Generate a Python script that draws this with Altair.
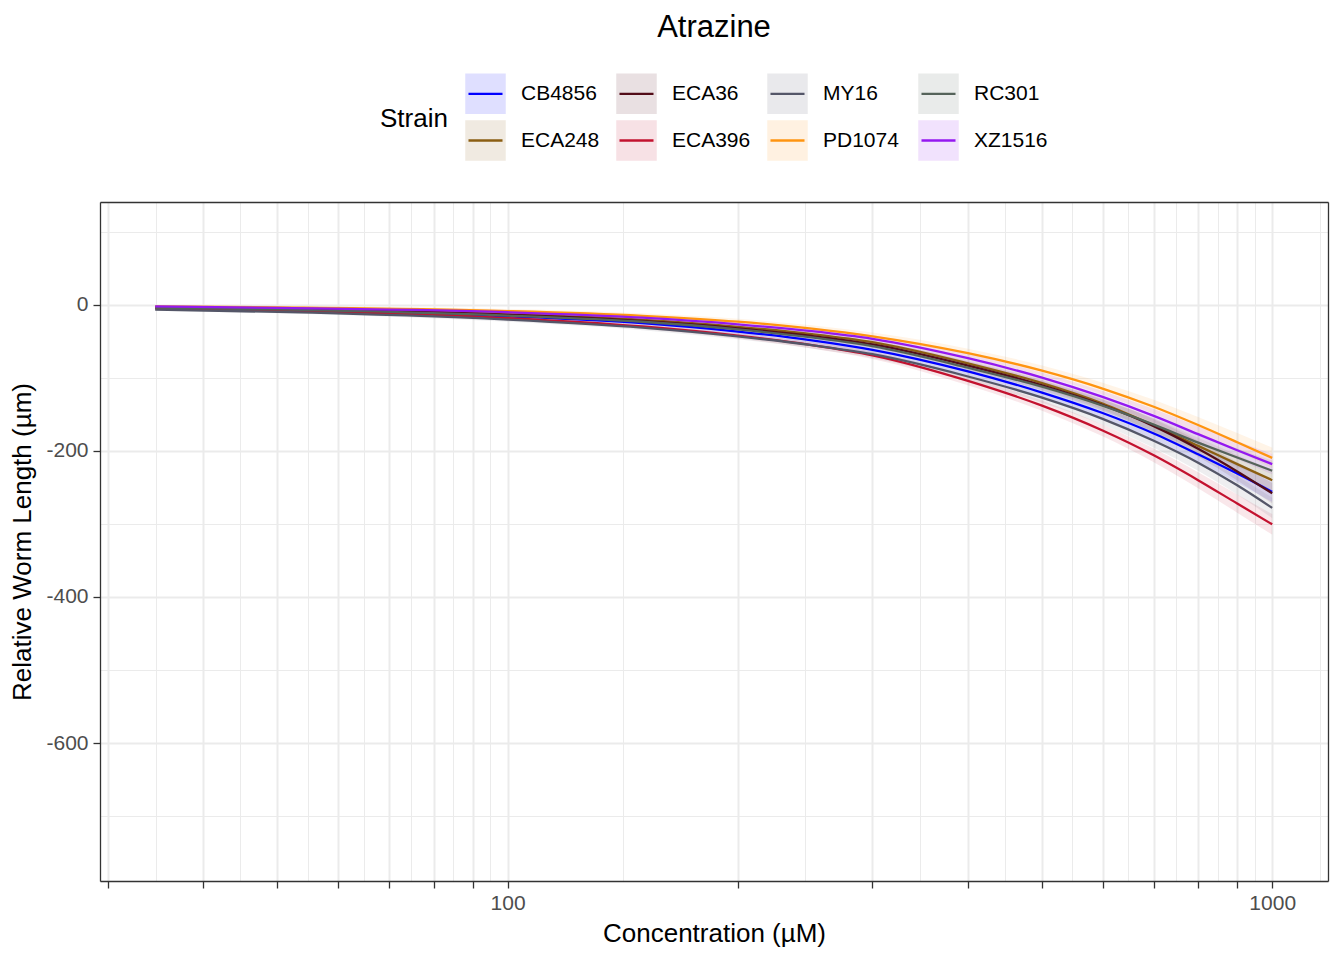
import altair as alt
import pandas as pd

# ---------------- data ----------------
strains = ["CB4856", "ECA248", "ECA36", "ECA396", "MY16", "PD1074", "RC301", "XZ1516"]
colors = ["#0000FF", "#8B5E12", "#520C18", "#C3122F", "#545668", "#FF9410", "#55635A", "#9418F0"]

conc = [34.6, 50, 100, 150, 200, 250, 300, 400, 500, 600, 700, 800, 900, 1000]

cb4856 = [-4, -6.5, -15.5, -25, -36.5, -48.5, -61.5, -91, -120, -148, -176, -204.5, -231, -256]
eca248 = [-3, -5, -12.5, -20.5, -30, -40, -51, -80, -107, -135, -165, -193, -218, -240]
eca36 = [-3, -5.5, -13.5, -22, -32, -42.5, -54, -83, -110, -137, -166, -197, -228, -258]
eca396 = [-4.5, -7.5, -18, -29.5, -42, -55, -69, -104, -138, -172, -206, -240, -272, -300.5]
my16 = [-6.5, -9.5, -20, -31, -43, -55, -67.5, -98, -127, -156, -186, -216, -247, -278]
pd1074 = [-2, -3.4, -8.4, -14.9, -22.9, -32.4, -42.9, -66, -90, -114.5, -139.5, -164.5, -188, -209.5]
rc301 = [-3.5, -6, -14.5, -23, -33.5, -44.5, -56.5, -86, -112, -138, -164, -188.5, -209, -227]
xz1516 = [-2, -4, -10, -17.5, -26.5, -36, -46.5, -73, -99.5, -126, -152, -177, -199, -218]

# approximate half-width of the confidence ribbons
ci_half = [1.5, 2, 3, 3.5, 4, 4.5, 5, 6, 7, 8, 9.5, 11, 12.5, 14]

x_major = [30, 40, 50, 60, 70, 80, 90, 100, 200, 300, 400, 500, 600, 700, 800, 900, 1000]
x_minor = [34.64, 44.72, 54.77, 64.81, 74.83, 84.85, 94.87, 141.4, 244.9, 346.4,
           447.2, 547.7, 648.1, 748.3, 848.5, 948.7, 1155]
y_major = [0, -200, -400, -600]
y_minor = [100, -100, -300, -500, -700]

series = {
    "CB4856": cb4856, "ECA248": eca248, "ECA36": eca36, "ECA396": eca396,
    "MY16": my16, "PD1074": pd1074, "RC301": rc301, "XZ1516": xz1516,
}

rows = []
for name in strains:
    for c, v, h in zip(conc, series[name], ci_half):
        rows.append({"Strain": name, "StrainKey": name, "conc": c,
                     "val": v, "lo": v - h, "hi": v + h})
df = pd.DataFrame(rows)

FONT = "Liberation Sans"
GRID = "#EBEBEB"
BORDER = "#333333"

xscale = alt.Scale(type="log", domain=[29.3, 1183], nice=False)
yscale = alt.Scale(domain=[-789, 141], nice=False, zero=False)

common_legend = dict(
    orient="none", legendX=280, legendY=-130, columns=4, padding=0,
    gridAlign="all", columnPadding=11, rowPadding=-9,
    title="Strain", titleOrient="left", titleAnchor="middle", titleBaseline="middle",
    titlePadding=16, titleFontSize=26, titleFont=FONT, titleFontWeight="normal",
    titleColor="black",
    symbolSize=1640, symbolStrokeWidth=2.3,
    labelFontSize=21, labelFont=FONT, labelColor="black", labelOffset=14,
)

fill_legend = alt.Legend(
    symbolType="square", symbolStrokeColor="transparent", symbolOpacity=0.12,
    labelOpacity=0, titleOpacity=0, zindex=0, **common_legend,
)

stroke_legend = alt.Legend(
    symbolType="M-1,-1M1,1M-0.84,0H0.84", symbolFillColor="transparent",
    zindex=1, **common_legend,
)

area = alt.Chart(df).mark_area(interpolate="monotone", fillOpacity=0.1).encode(
    x=alt.X("conc:Q", scale=xscale,
            axis=alt.Axis(orient="top", values=x_minor, grid=True, gridColor=GRID,
                          gridWidth=1.0, ticks=False, labels=False, domain=True,
                          domainColor=BORDER, domainWidth=1.3, title="")),
    y=alt.Y("lo:Q", scale=yscale,
            axis=alt.Axis(orient="right", values=y_minor, grid=True, gridColor=GRID,
                          gridWidth=1.0, ticks=False, labels=False, domain=True,
                          domainColor=BORDER, domainWidth=1.3, title="")),
    y2="hi:Q",
    fill=alt.Fill("Strain:N", sort=strains, scale=alt.Scale(range=colors), legend=fill_legend),
)

line = alt.Chart(df).mark_line(interpolate="monotone", strokeWidth=2.3).encode(
    x=alt.X("conc:Q", scale=xscale,
            axis=alt.Axis(orient="bottom", values=x_major,
                          labelExpr="(datum.value == 100 || datum.value == 1000) ? '' + datum.value : ''",
                          grid=True, gridColor=GRID, gridWidth=2.0,
                          domain=True, domainColor=BORDER, domainWidth=1.3,
                          tickColor=BORDER, tickWidth=1.3, tickSize=7,
                          labelFontSize=21, labelFont=FONT, labelColor="#4D4D4D",
                          labelPadding=4, labelOverlap=False, labelFlush=False,
                          title="Concentration (µM)", titleFontSize=26, titleFont=FONT,
                          titleFontWeight="normal", titleColor="black", titlePadding=7)),
    y=alt.Y("val:Q", scale=yscale,
            axis=alt.Axis(orient="left", values=y_major, labelExpr="'' + datum.value",
                          grid=True, gridColor=GRID, gridWidth=2.0,
                          domain=True, domainColor=BORDER, domainWidth=1.3,
                          tickColor=BORDER, tickWidth=1.3, tickSize=7,
                          labelFontSize=21, labelFont=FONT, labelColor="#4D4D4D",
                          labelPadding=5, labelOverlap=False,
                          title="Relative Worm Length (µm)", titleFontSize=26, titleFont=FONT,
                          titleFontWeight="normal", titleColor="black", titlePadding=10)),
    stroke=alt.Stroke("StrainKey:N", sort=strains, scale=alt.Scale(range=colors),
                      legend=stroke_legend),
)

chart = alt.layer(area, line).resolve_axis(
    x="independent", y="independent"
).properties(
    width=1228, height=679,
    padding={"left": 92, "top": 194, "right": 8, "bottom": 71},
    autosize=alt.AutoSizeParams(type="none"),
    title=alt.TitleParams(text="Atrazine", fontSize=31, font=FONT, fontWeight="normal",
                          color="black", anchor="middle", frame="group",
                          baseline="alphabetic", offset=4),
).configure_view(
    stroke=BORDER, strokeWidth=1.3
).configure(background="white")

chart.save("out.html", embed_options={"renderer": "svg", "actions": False})
